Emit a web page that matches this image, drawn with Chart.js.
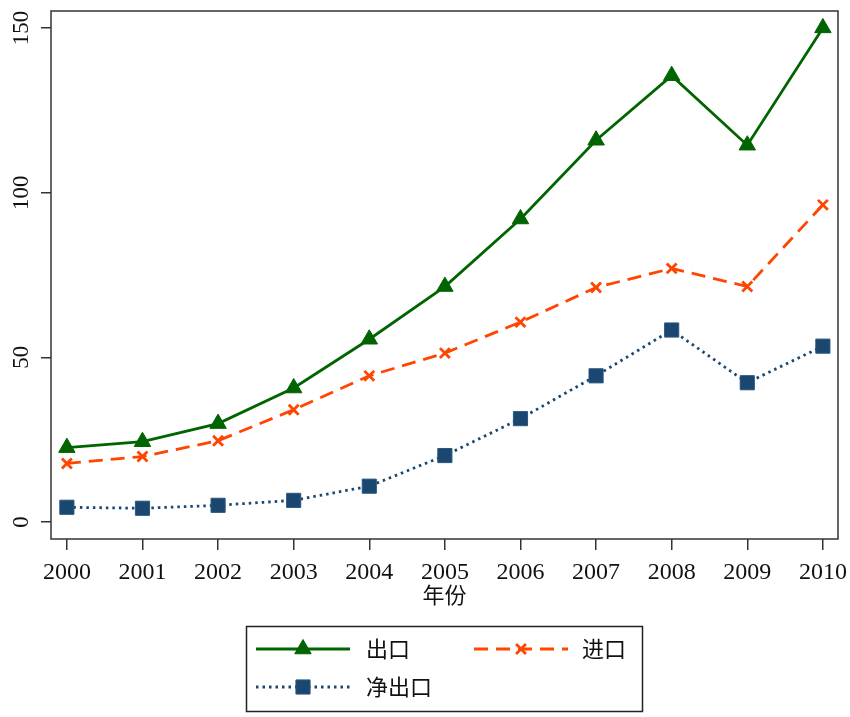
<!DOCTYPE html>
<html>
<head>
<meta charset="utf-8">
<script src="https://cdn.jsdelivr.net/npm/chart.js"></script>
<style>
  body { margin: 0; background: #fff; }
  #wrap { width: 850px; height: 717px; }
</style>
</head>
<body>
<div id="wrap"><canvas id="tradeChart" width="850" height="717"></canvas></div>
<script>
const years = [2000, 2001, 2002, 2003, 2004, 2005, 2006, 2007, 2008, 2009, 2010];
const exportVals = [22.6, 24.4, 29.9, 40.7, 55.5, 71.5, 92.0, 115.9, 135.5, 114.4, 150.0];
const importVals = [17.8, 19.9, 24.7, 34.1, 44.4, 51.3, 60.7, 71.2, 77.0, 71.5, 96.3];
const netVals = [4.5, 4.2, 5.1, 6.6, 10.9, 20.2, 31.4, 44.4, 58.3, 42.3, 53.4];
const yTicks = [0, 50, 100, 150];
const seriesNames = ['出口', '进口', '净出口'];
const xTitle = '年份';

const serif = '"Liberation Serif", "DejaVu Serif", serif';
const cjk = '"Noto Sans CJK SC", "Noto Sans", sans-serif';

function toPoints(vals) {
    return years.map((x, i) => ({ x: x, y: vals[i] }));
}

// frame, rotated y labels, axis title and legend box
const extrasPlugin = {
    id: 'extras',
    afterDraw(chart) {
        const ctx = chart.ctx;
        const a = chart.chartArea;
        const yScale = chart.scales.y;
        ctx.save();

        ctx.strokeStyle = '#333';
        ctx.lineWidth = 1.5;
        ctx.setLineDash([]);
        ctx.strokeRect(a.left, a.top, a.right - a.left, a.bottom - a.top);

        ctx.fillStyle = '#111';
        ctx.font = '23px ' + serif;
        ctx.textAlign = 'center';
        ctx.textBaseline = 'middle';
        yTicks.forEach(v => {
            const py = yScale.getPixelForValue(v);
            ctx.save();
            ctx.translate(22, py);
            ctx.rotate(-Math.PI / 2);
            ctx.fillText(String(v), 0, 0);
            ctx.restore();
        });

        ctx.font = '22px ' + cjk;
        ctx.fillText(xTitle, (a.left + a.right) / 2, 595);

        // legend
        ctx.strokeStyle = '#222';
        ctx.lineWidth = 1.5;
        ctx.strokeRect(246.5, 626.5, 396, 85);

        const slots = [
            { x0: 256, x1: 350, tx: 366, y: 649 },
            { x0: 474, x1: 568, tx: 582, y: 649 },
            { x0: 256, x1: 350, tx: 366, y: 687 }
        ];
        chart.data.datasets.forEach((ds, i) => {
            const s = slots[i];
            ctx.strokeStyle = ds.borderColor;
            ctx.lineWidth = ds.borderWidth;
            ctx.setLineDash(ds.borderDash || []);
            ctx.beginPath();
            ctx.moveTo(s.x0, s.y);
            ctx.lineTo(s.x1, s.y);
            ctx.stroke();

            ctx.setLineDash([]);
            ctx.fillStyle = ds.pointBackgroundColor;
            ctx.strokeStyle = ds.pointBorderColor;
            ctx.lineWidth = ds.pointBorderWidth;
            Chart.helpers.drawPoint(ctx, {
                pointStyle: ds.pointStyle,
                radius: ds.pointRadius,
                borderWidth: ds.pointBorderWidth,
                rotation: 0
            }, (s.x0 + s.x1) / 2, s.y);

            ctx.fillStyle = '#111';
            ctx.font = '22px ' + cjk;
            ctx.textAlign = 'left';
            ctx.textBaseline = 'middle';
            ctx.fillText(seriesNames[i], s.tx, s.y);
        });

        ctx.restore();
    }
};

const ctx = document.getElementById('tradeChart').getContext('2d');

new Chart(ctx, {
    type: 'line',
    data: {
        datasets: [{
            label: seriesNames[0],
            data: toPoints(exportVals),
            borderColor: '#006400',
            borderWidth: 2.8,
            pointStyle: 'triangle',
            pointRadius: 9.5,
            pointBackgroundColor: '#006400',
            pointBorderColor: '#006400',
            pointBorderWidth: 1,
            tension: 0
        }, {
            label: seriesNames[1],
            data: toPoints(importVals),
            borderColor: '#ff4500',
            borderWidth: 2.8,
            borderDash: [14, 8],
            pointStyle: 'crossRot',
            pointRadius: 7,
            pointBackgroundColor: '#ff4500',
            pointBorderColor: '#ff4500',
            pointBorderWidth: 2.8,
            tension: 0
        }, {
            label: seriesNames[2],
            data: toPoints(netVals),
            borderColor: '#1a476f',
            borderWidth: 2.8,
            borderDash: [2.5, 4],
            pointStyle: 'rect',
            pointRadius: 10,
            pointBackgroundColor: '#1a476f',
            pointBorderColor: '#2a5780',
            pointBorderWidth: 1,
            tension: 0
        }]
    },
    options: {
        responsive: false,
        animation: false,
        clip: false,
        layout: { padding: { left: 0, right: 12, top: 8, bottom: 0 } },
        plugins: {
            legend: { display: false },
            tooltip: { enabled: false }
        },
        scales: {
            x: {
                type: 'linear',
                min: 1999.79,
                max: 2010.2,
                afterBuildTicks: scale => {
                    scale.ticks = years.map(v => ({ value: v }));
                },
                afterFit: scale => {
                    scale.height = 178;
                    scale.paddingLeft = 0;
                    scale.paddingRight = 0;
                },
                border: { display: false },
                grid: {
                    drawOnChartArea: false,
                    drawTicks: true,
                    tickLength: 11,
                    color: '#333',
                    lineWidth: 1.5
                },
                ticks: {
                    callback: v => String(v),
                    font: { family: serif, size: 24 },
                    color: '#111',
                    padding: 8,
                    maxRotation: 0,
                    autoSkip: false
                }
            },
            y: {
                min: -5.13,
                max: 155.13,
                afterBuildTicks: scale => {
                    scale.ticks = yTicks.map(v => ({ value: v }));
                },
                afterFit: scale => {
                    scale.width = 51;
                    scale.paddingTop = 0;
                    scale.paddingBottom = 0;
                },
                border: { display: false },
                grid: {
                    drawOnChartArea: false,
                    drawTicks: true,
                    tickLength: 10,
                    color: '#333',
                    lineWidth: 1.5
                },
                ticks: { display: false }
            }
        }
    },
    plugins: [extrasPlugin]
});
</script>
</body>
</html>
